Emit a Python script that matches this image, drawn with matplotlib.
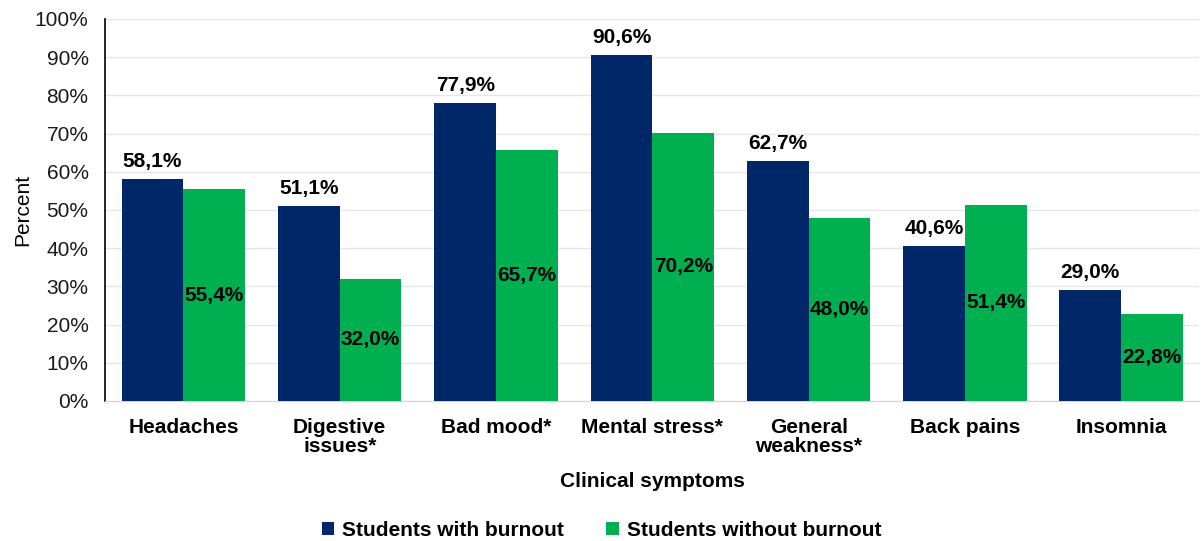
import matplotlib.pyplot as plt
import numpy as np

plt.rcParams['font.family'] = ['Liberation Sans', 'DejaVu Sans']

categories = ["Headaches", "Digestive\nissues*", "Bad mood*", "Mental stress*",
              "General\nweakness*", "Back pains", "Insomnia"]
with_burnout = [58.1, 51.1, 77.9, 90.6, 62.7, 40.6, 29.0]
without_burnout = [55.4, 32.0, 65.7, 70.2, 48.0, 51.4, 22.8]

blue = "#002869"
green = "#00b050"

fig = plt.figure(figsize=(12.03, 5.41), dpi=100)
ax = fig.add_axes([0.0875, 0.2588, 0.9095, 0.7061])

x = np.arange(len(categories))
w = 0.395
b1 = ax.bar(x - w / 2, with_burnout, w, color=blue, label="Students with burnout", zorder=3)
b2 = ax.bar(x + w / 2, without_burnout, w, color=green, label="Students without burnout", zorder=3)

def fmt(v):
    return f"{v:.1f}%".replace(".", ",")

for rect, v in zip(b1, with_burnout):
    ax.text(rect.get_x() + rect.get_width() / 2, v + 2.1, fmt(v), ha="center", va="bottom",
            fontsize=15, fontweight="bold", color="black")
for rect, v in zip(b2, without_burnout):
    ax.text(rect.get_x() + rect.get_width() / 2, v / 2, fmt(v), ha="center", va="center",
            fontsize=15, fontweight="bold", color="black")

ax.set_xlim(-0.5, len(categories) - 0.5)
ax.set_ylim(0, 100)
ax.set_yticks(np.arange(0, 101, 10))
ax.set_yticklabels([f"{t}%" for t in range(0, 101, 10)], fontsize=15, color="#1a1a1a")
ax.set_xticks(x)
ax.set_xticklabels(categories, fontsize=15, fontweight="bold", linespacing=1.0)
ax.tick_params(axis="y", length=0, pad=12)
ax.tick_params(axis="x", length=0, pad=12)
ax.grid(axis="y", color="#e6e6e6", linewidth=1, zorder=0)

for s in ["top", "right"]:
    ax.spines[s].set_visible(False)
ax.spines["left"].set_color("black")
ax.spines["left"].set_linewidth(1.2)
ax.spines["bottom"].set_color("#f2c4cc")

ax.set_ylabel("Percent", fontsize=15, labelpad=2)
ax.set_xlabel("Clinical symptoms", fontsize=15, fontweight="bold", labelpad=12)

leg = fig.legend(loc="lower center", bbox_to_anchor=(0.5, -0.013), ncol=2, frameon=False,
                 prop={"size": 15, "weight": "bold"}, handlelength=0.6, handleheight=0.6,
                 columnspacing=2.0, handletextpad=0.4, borderaxespad=0.0)

fig.savefig("out.png", dpi=100)
